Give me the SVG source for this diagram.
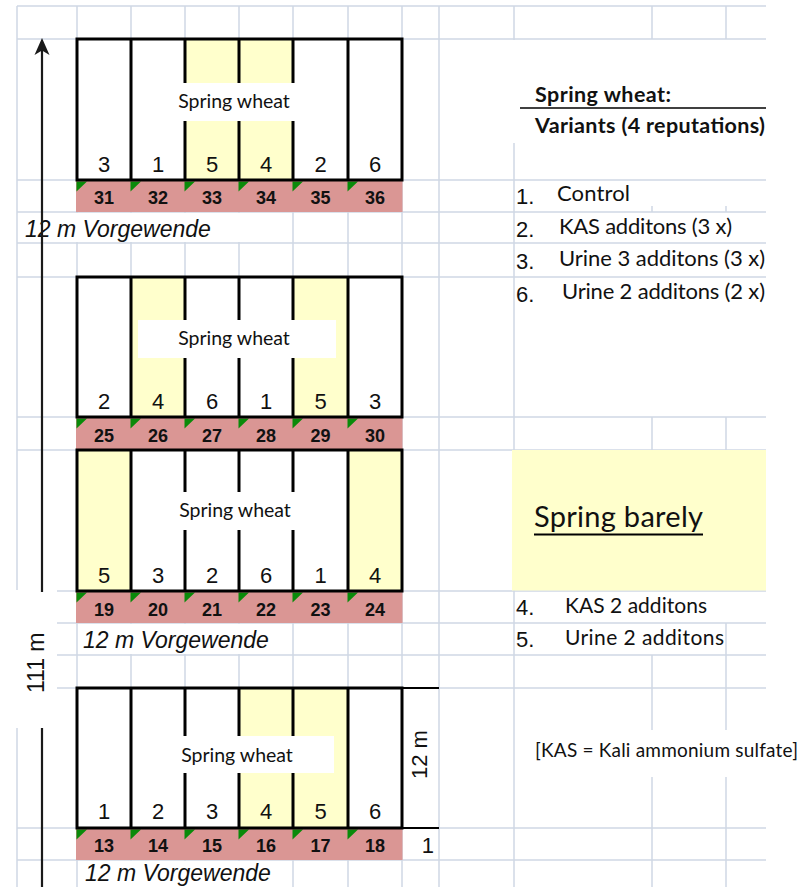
<svg xmlns="http://www.w3.org/2000/svg" width="805" height="887" viewBox="0 0 805 887">
<style>
.grid{stroke:#d0d7e5;stroke-width:1.5;fill:none}
.thick{stroke:#000;stroke-width:3;fill:none}
.yel{fill:#ffffcc}
.band{fill:#da9694}
.tri{fill:#0a8a0a}
.wh{fill:#fff}
.dig{font-family:"Liberation Sans",Arial,sans-serif;font-size:22px;text-anchor:middle;fill:#111}
.bn{font-family:"Liberation Sans",Arial,sans-serif;font-weight:bold;font-size:18px;text-anchor:middle;fill:#111}
.lbl{font-family:Lato,"Open Sans",sans-serif;font-size:19.5px;text-anchor:middle;fill:#111}
.vg{font-family:"Liberation Sans",Arial,sans-serif;font-style:italic;font-size:23px;fill:#111}
.ar{font-family:"Liberation Sans",Arial,sans-serif;font-size:22px;fill:#111}
.cal{font-family:Lato,"Open Sans",sans-serif;fill:#111}
</style>
<rect width="805" height="887" fill="#fff"/>
<g id="grid">
<path class="grid" d="M17,6H766M17,39H766M17,180H766M17,212H766M17,243H766M17,277H766M17,417H766M17,450H766M17,591H766M17,623H766M17,655H766M17,688H766M17,828H766M17,860H766"/>
<path class="grid" d="M17,6V887M77,6V887M131,6V887M185,6V887M239,6V887M293,6V887M348,6V887M402,6V887M439,6V887M514,6V40M514,143V887M652,6V39M652,206V212M652,417V450M652,655V730M652,777V887M726,6V39M726,206V212M726,417V450M726,623V730M726,777V887"/>
</g>
<g id="text-backgrounds">
<rect class="wh" x="18.5" y="213" width="272" height="29"/>
<rect class="wh" x="78.5" y="624" width="212.5" height="30"/>
<rect class="wh" x="78.5" y="861" width="212.5" height="26"/>
<rect class="wh" x="15" y="590" width="42" height="138"/>
<rect class="wh" x="515" y="40" width="251" height="103"/>
</g>
<g id="block-31-36">
<rect class="wh" x="77" y="39" width="325" height="141"/>
<rect class="yel" x="185" y="39" width="108" height="141"/>
<rect class="band" x="76" y="180" width="326.5" height="32"/>
<path class="tri" d="M76.5,181.5h10.5l-10.5,10zM130.5,181.5h10.5l-10.5,10zM184.5,181.5h10.5l-10.5,10zM238.5,181.5h10.5l-10.5,10zM292.5,181.5h10.5l-10.5,10zM347.5,181.5h10.5l-10.5,10z"/>
<path class="thick" d="M77,39H402V180H77ZM131,39V180M185,39V180M239,39V180M293,39V180M348,39V180"/>
<rect class="wh" x="138" y="83" width="198" height="38"/>
<text class="lbl" x="234" y="108">Spring wheat</text>
<text class="dig" y="172"><tspan x="104">3</tspan><tspan x="158">1</tspan><tspan x="212">5</tspan><tspan x="266">4</tspan><tspan x="320.5">2</tspan><tspan x="375">6</tspan></text>
<text class="bn" y="204"><tspan x="104">31</tspan><tspan x="158">32</tspan><tspan x="212">33</tspan><tspan x="266">34</tspan><tspan x="320.5">35</tspan><tspan x="375">36</tspan></text>
</g>
<g id="block-25-30">
<rect class="wh" x="77" y="277" width="325" height="140"/>
<rect class="yel" x="131" y="277" width="54" height="140"/>
<rect class="yel" x="293" y="277" width="55" height="140"/>
<rect class="band" x="76" y="417" width="326.5" height="33"/>
<path class="tri" d="M76.5,418.5h10.5l-10.5,10zM130.5,418.5h10.5l-10.5,10zM184.5,418.5h10.5l-10.5,10zM238.5,418.5h10.5l-10.5,10zM292.5,418.5h10.5l-10.5,10zM347.5,418.5h10.5l-10.5,10z"/>
<path class="thick" d="M77,277H402V417H77ZM131,277V417M185,277V417M239,277V417M293,277V417M348,277V417"/>
<rect class="wh" x="138" y="320" width="198" height="38"/>
<text class="lbl" x="234" y="345">Spring wheat</text>
<text class="dig" y="409"><tspan x="104">2</tspan><tspan x="158">4</tspan><tspan x="212">6</tspan><tspan x="266">1</tspan><tspan x="320.5">5</tspan><tspan x="375">3</tspan></text>
<text class="bn" y="442"><tspan x="104">25</tspan><tspan x="158">26</tspan><tspan x="212">27</tspan><tspan x="266">28</tspan><tspan x="320.5">29</tspan><tspan x="375">30</tspan></text>
</g>
<g id="block-19-24">
<rect class="wh" x="77" y="450" width="325" height="141"/>
<rect class="yel" x="77" y="450" width="54" height="141"/>
<rect class="yel" x="348" y="450" width="54" height="141"/>
<rect class="band" x="76" y="591" width="326.5" height="32"/>
<path class="tri" d="M76.5,592.5h10.5l-10.5,10zM130.5,592.5h10.5l-10.5,10zM184.5,592.5h10.5l-10.5,10zM238.5,592.5h10.5l-10.5,10zM292.5,592.5h10.5l-10.5,10zM347.5,592.5h10.5l-10.5,10z"/>
<path class="thick" d="M77,450H402V591H77ZM131,450V591M185,450V591M239,450V591M293,450V591M348,450V591"/>
<rect class="wh" x="138" y="492" width="198" height="38"/>
<text class="lbl" x="235" y="517">Spring wheat</text>
<text class="dig" y="583"><tspan x="104">5</tspan><tspan x="158">3</tspan><tspan x="212">2</tspan><tspan x="266">6</tspan><tspan x="320.5">1</tspan><tspan x="375">4</tspan></text>
<text class="bn" y="616"><tspan x="104">19</tspan><tspan x="158">20</tspan><tspan x="212">21</tspan><tspan x="266">22</tspan><tspan x="320.5">23</tspan><tspan x="375">24</tspan></text>
</g>
<g id="block-13-18">
<rect class="wh" x="77" y="688" width="325" height="140"/>
<rect class="yel" x="239" y="688" width="109" height="140"/>
<rect class="band" x="76" y="828" width="326.5" height="32"/>
<path class="tri" d="M76.5,829.5h10.5l-10.5,10zM130.5,829.5h10.5l-10.5,10zM184.5,829.5h10.5l-10.5,10zM238.5,829.5h10.5l-10.5,10zM292.5,829.5h10.5l-10.5,10zM347.5,829.5h10.5l-10.5,10z"/>
<path class="thick" d="M77,688H402V828H77ZM131,688V828M185,688V828M239,688V828M293,688V828M348,688V828"/>
<rect class="wh" x="152" y="736" width="182" height="37"/>
<text class="lbl" x="237" y="762">Spring wheat</text>
<text class="dig" y="819"><tspan x="104">1</tspan><tspan x="158">2</tspan><tspan x="212">3</tspan><tspan x="266">4</tspan><tspan x="320.5">5</tspan><tspan x="375">6</tspan></text>
<text class="bn" y="852"><tspan x="104">13</tspan><tspan x="158">14</tspan><tspan x="212">15</tspan><tspan x="266">16</tspan><tspan x="320.5">17</tspan><tspan x="375">18</tspan></text>
<path d="M402,688H439M402,828H439" stroke="#000" stroke-width="1.8"/>
<text class="ar" transform="translate(427,779) rotate(-90)">12 m</text>
<text class="ar" x="434" y="853" text-anchor="end">1</text>
</g>
<g id="headland-labels">
<text class="vg" x="25" y="237">12 m Vorgewende</text>
<text class="vg" x="83" y="648">12 m Vorgewende</text>
<text class="vg" x="85" y="881">12 m Vorgewende</text>
</g>
<g id="length-arrow">
<path d="M42,48V592M42,728V887" stroke="#1a1a1a" stroke-width="2.2" fill="none"/>
<path d="M42,38L34.5,55L42,50.5L49.5,55Z" fill="#1a1a1a"/>
<text class="vg" style="font-style:normal" transform="translate(44,693) rotate(-90)">111 m</text>
</g>
<g id="legend">
<text class="cal" x="535" y="102" font-weight="bold" font-size="21.5" textLength="136">Spring wheat:</text>
<path d="M520,108H766" stroke="#000" stroke-width="1.5"/>
<text class="cal" x="535" y="133" font-weight="bold" font-size="21.5" textLength="230">Variants (4 reputations)</text>
<text class="ar" x="516" y="204">1.</text>
<text class="cal" x="557" y="201" font-size="22" textLength="73">Control</text>
<text class="ar" x="516" y="237">2.</text>
<text class="cal" x="559" y="234" font-size="22" textLength="173">KAS additons (3 x)</text>
<text class="ar" x="516" y="269">3.</text>
<text class="cal" x="559" y="266" font-size="22" textLength="206">Urine 3 additons (3 x)</text>
<text class="ar" x="516" y="302">6.</text>
<text class="cal" x="562" y="299" font-size="22" textLength="203">Urine 2 additons (2 x)</text>
</g>
<g id="barley">
<rect class="yel" x="512" y="450" width="254" height="140.5"/>
<text class="cal" x="534" y="527" font-size="29" textLength="169">Spring barely</text>
<path d="M534,534.5H703" stroke="#000" stroke-width="2"/>
<text class="ar" x="516" y="615">4.</text>
<text class="cal" x="565" y="613" font-size="21" textLength="142">KAS 2 additons</text>
<text class="ar" x="516" y="647">5.</text>
<text class="cal" x="565" y="645" font-size="21" textLength="159">Urine 2 additons</text>
<text class="cal" x="535" y="757" font-size="19" textLength="263">[KAS = Kali ammonium sulfate]</text>
</g>
</svg>
